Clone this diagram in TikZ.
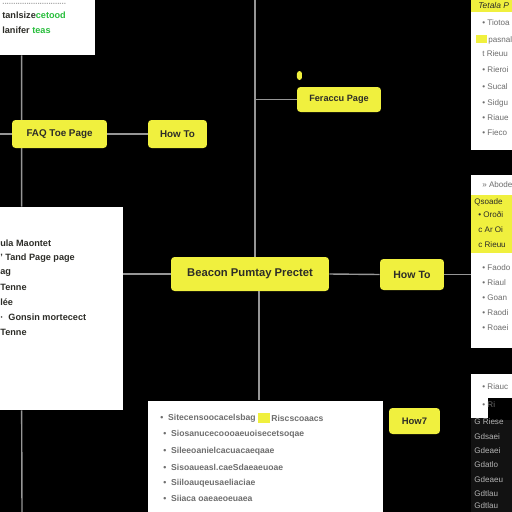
\documentclass[tikz,border=0pt]{standalone}
\usepackage{fontspec}
\setmainfont{Liberation Sans}
\usetikzlibrary{calc}
\definecolor{yel}{RGB}{240,240,62}
\definecolor{ink}{RGB}{45,45,40}
\definecolor{conncol}{RGB}{150,150,150}
\definecolor{gtext}{RGB}{40,190,60}
\definecolor{ltext}{RGB}{110,110,110}
\definecolor{dpanel}{RGB}{18,18,18}
\begin{document}
\begin{tikzpicture}[x=0.02cm,y=-0.02cm,
  ybox/.style={fill=yel,rounded corners=2pt,inner sep=0pt,text=ink,font=\fontsize{5.6}{6}\selectfont\bfseries},
  panel/.style={fill=white,inner sep=0pt},
  conn/.style={draw=conncol,line width=0.8pt},
  ptext/.style={anchor=west,inner sep=0pt,text=ink,font=\fontsize{5.2}{6}\selectfont\bfseries},
  ltxt/.style={anchor=west,inner sep=0pt,text=ltext,font=\fontsize{4.9}{6}\selectfont\bfseries},
  rtxt/.style={anchor=west,inner sep=0pt,text=ltext,font=\fontsize{4.6}{6}\selectfont},
  dtxt/.style={anchor=west,inner sep=0pt,text=gray!60,font=\fontsize{4.6}{6}\selectfont}]
\fill[black] (0,0) rectangle (512,512);
\useasboundingbox (0,0) rectangle (512,512);

% panels
\node[panel,minimum width=1.9cm,minimum height=1.1cm] (tl) at (47.5,27.5) {};
\node[panel,minimum width=2.46cm,minimum height=4.06cm] (lp) at (61.5,308.5) {};
\node[panel,minimum width=4.7cm,minimum height=2.3cm] (bp) at (265.5,458) {};
\node[panel,minimum width=0.9cm,minimum height=3cm] (rt) at (493.5,75) {};
\node[panel,minimum width=0.9cm,minimum height=3.46cm] (rm) at (493.5,261.5) {};
\node[panel,minimum width=0.9cm,minimum height=2.78cm] (rb) at (493.5,443.5) {};
\fill[dpanel] (471,418) rectangle (515,515);
\fill[yel] (471,0) rectangle (515,12);
\fill[yel] (471,195) rectangle (515,253);
\fill[black] (488,398) rectangle (515,420);

% connector coordinates
\coordinate (l0) at (0,134);
\coordinate (top) at (255,0);
\coordinate (bl) at (22,512);

% connectors
\draw[conn] ([xshift=0.44cm]tl.south west) -- ([xshift=0.44cm]lp.north west);
\draw[conn] ([xshift=0.44cm]lp.south west) -- (bl);

% yellow boxes
\node[ybox,minimum width=1.9cm,minimum height=0.56cm] (faq) at (59.5,134) {FAQ Toe Page};
\node[ybox,minimum width=1.18cm,minimum height=0.56cm] (how1) at (177.5,134) {How To};
\node[ybox,minimum width=1.68cm,minimum height=0.5cm,font=\fontsize{5.2}{6}\selectfont\bfseries] (feat) at (339,99.5) {Feraccu Page};
\node[fill=yel,rounded corners=1.5pt,minimum width=0.1cm,minimum height=0.18cm,inner sep=0pt] (dot) at (299.5,75.5) {};
\node[ybox,minimum width=3.16cm,minimum height=0.68cm,font=\fontsize{6.4}{7}\selectfont\bfseries] (cen) at (250,274) {Beacon Pumtay Prectet};
\node[ybox,minimum width=1.28cm,minimum height=0.62cm,font=\fontsize{6}{7}\selectfont\bfseries] (how2) at (412,274.5) {How To};
\node[ybox,minimum width=1.02cm,minimum height=0.52cm,font=\fontsize{5.4}{6}\selectfont\bfseries] (how3) at (414.5,421) {How7};

\draw[conn] (l0) -- (faq.west);
\draw[conn] (faq.east) -- (how1.west);
\draw[conn] (top) -- (top |- cen.north);
\draw[conn] (feat.west) -- (feat.west -| top);
\draw[conn] ([xshift=0.18cm]cen.south) -- ([xshift=0.18cm]cen.south |- bp.north);
\draw[conn] (cen.west) -- (cen.west -| lp.east);
\draw[conn] (cen.east) -- (how2.west);
\draw[conn] (how2.east) -- (how2.east -| rm.west);

% top-left panel text
\node[ptext,text=gray!70] (tl0) at (2,4) {\fontsize{4.5}{5}\selectfont .............................};
\node[ptext] (tl1) at (2,15) {tanlsize\textcolor{gtext}{cetood}};
\node[ptext] (tl2) at (2,30) {lanifer \textcolor{gtext}{teas}};

% left panel text
\node[ptext] (lp1) at (0,243) {ula Maontet};
\node[ptext] (lp2) at (0,258) {' Tand Page page};
\node[ptext] (lp3) at (0,273) {ag};
\node[ptext] (lp4) at (0,287) {Tenne};
\node[ptext] (lp5) at (0,302) {lée};
\node[ptext] (lp6) at (0,317) {·\ \ Gonsin mortecect};
\node[ptext] (lp7) at (0,332) {Tenne};

% bottom panel text
\fill[yel] (258,413) rectangle (270,423);
\node[ltxt] (b1) at (160,418) {•\ \ Sitecensoocacelsbag};
\node[ltxt] (b1b) at (271,418) {Riscscoaacs};
\node[ltxt] (b2) at (163,434) {•\ \ Siosanucecoooaeuoisecetsoqae};
\node[ltxt] (b3) at (163,451) {•\ \ Sileeoanielcacuacaeqaae};
\node[ltxt] (b4) at (163,467) {•\ \ Sisoaueasl.caeSdaeaeuoae};
\node[ltxt] (b5) at (163,483) {•\ \ Siiloauqeusaeliaciae};
\node[ltxt] (b6) at (163,498) {•\ \ Siiaca oaeaeoeuaea};

% right top panel text
\node[rtxt,text=ink,font=\fontsize{4.8}{6}\selectfont\itshape] (r0) at (478,5) {Tetala P};
\fill[yel] (476,35) rectangle (487,43);
\node[rtxt] (r1) at (482,23) {• Tiotoa};
\node[rtxt] (r2) at (488,40) {pasnal};
\node[rtxt] (r3) at (482,54) {t Rieuu};
\node[rtxt] (r4) at (482,70) {• Rieroi};
\node[rtxt] (r5) at (482,87) {• Sucal};
\node[rtxt] (r6) at (482,103) {• Sidgu};
\node[rtxt] (r7) at (482,118) {• Riaue};
\node[rtxt] (r8) at (482,133) {• Fieco};

% right middle panel text
\node[rtxt] (m0) at (482,185) {» Abode};
\node[rtxt,text=ink] (m1) at (474,202) {Qsoade};
\node[rtxt,text=ink] (m2) at (478,215) {• Oroði};
\node[rtxt,text=ink] (m3) at (478,230) {c Ar Oi};
\node[rtxt,text=ink] (m4) at (478,245) {c Rieuu};
\node[rtxt] (m5) at (482,268) {• Faodo};
\node[rtxt] (m6) at (482,283) {• Riaul};
\node[rtxt] (m7) at (482,298) {• Goan};
\node[rtxt] (m8) at (482,313) {• Raodi};
\node[rtxt] (m9) at (482,328) {• Roaei};

% right bottom panel text
\node[rtxt] (q1) at (482,387) {• Riauc};
\node[rtxt] (q2) at (482,405) {• Ri};
\node[dtxt] (q3) at (474,422) {G Riese};
\node[dtxt] (q4) at (474,437) {Gdsaei};
\node[dtxt] (q5) at (474,451) {Gdeaei};
\node[dtxt] (q6) at (474,465) {Gdatlo};
\node[dtxt] (q7) at (474,480) {Gdeaeu};
\node[dtxt] (q8) at (474,494) {Gdtlau};
\node[dtxt] (q9) at (474,506) {Gdtlau};
\end{tikzpicture}
\end{document}
